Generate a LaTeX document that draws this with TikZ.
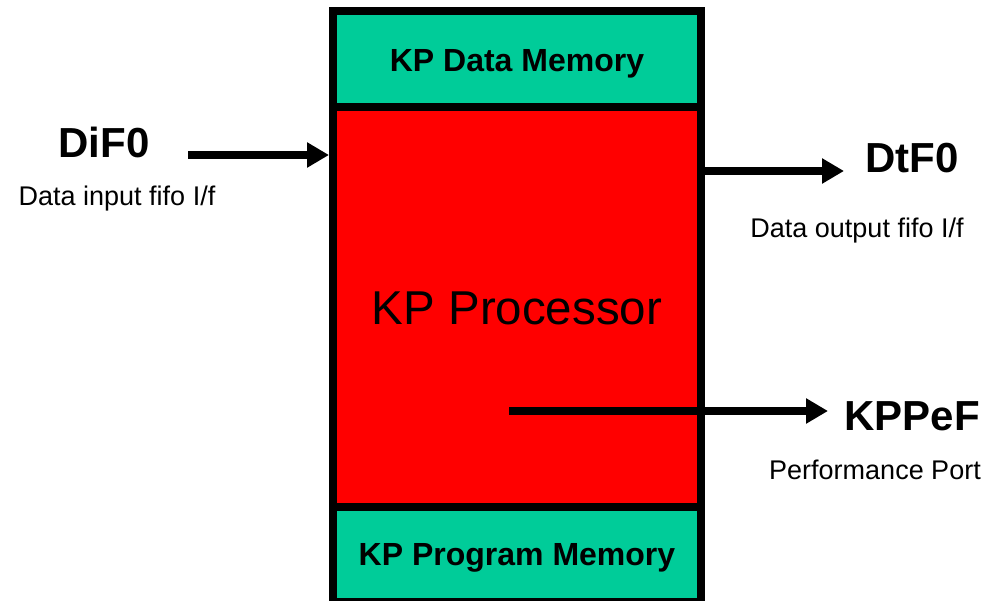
\documentclass[tikz,border=0pt]{standalone}
\usepackage{fontspec}
\setmainfont{Liberation Sans}
\usetikzlibrary{arrows.meta}
\definecolor{kpgreen}{RGB}{0,204,153}
\definecolor{kpred}{RGB}{255,0,0}
\begin{document}
\begin{tikzpicture}[x=1pt, y=-1pt,
  blk/.style={draw, line width=8pt, minimum width=368pt, inner sep=0pt},
  sig/.style={line width=7.5pt, -{Triangle[length=22pt,width=24pt]}},
  big/.style={anchor=base, inner sep=0pt, font=\bfseries\fontsize{42}{48}\selectfont},
  memlbl/.style={anchor=base, inner sep=0pt, font=\bfseries\fontsize{32}{38}\selectfont},
  small/.style={anchor=base, inner sep=0pt, font=\fontsize{27}{31}\selectfont}]
\useasboundingbox (0,0) rectangle (998,601);
\node[blk, fill=kpred, minimum height=400pt] (proc) at (517,307){};
\node[blk, fill=kpgreen, minimum height=96pt] (dmem) at (517,59){};
\node[blk, fill=kpgreen, minimum height=95pt] (pmem) at (517,554.5){};
\node[memlbl] (dmemlbl) at (517,72){KP Data Memory};
\node[memlbl] (pmemlbl) at (517,565){KP Program Memory};
\node[anchor=base, inner sep=0pt, font=\fontsize{47.5}{55}\selectfont] (proclbl) at (517,325){KP Processor};
\coordinate (difin) at (188,155);
\coordinate (dtfout) at (844,171);
\coordinate (kpsrc) at (509,411);
\coordinate (kpdst) at (828,411);
\draw[sig] (difin) -- (difin -| proc.west);
\draw[sig] (dtfout -| proc.east) -- (dtfout);
\draw[sig] (kpsrc) -- (kpdst);
\node[big] (dif) at (104,158){DiF0};
\node[small] (difnote) at (117,206){Data input fifo I/f};
\node[big] (dtf) at (912,173){DtF0};
\node[small] (dtfnote) at (857,238){Data output fifo I/f};
\node[big] (kpp) at (912,430){KPPeF};
\node[small] (kppnote) at (875,479){Performance Port};

\end{tikzpicture}
\end{document}
